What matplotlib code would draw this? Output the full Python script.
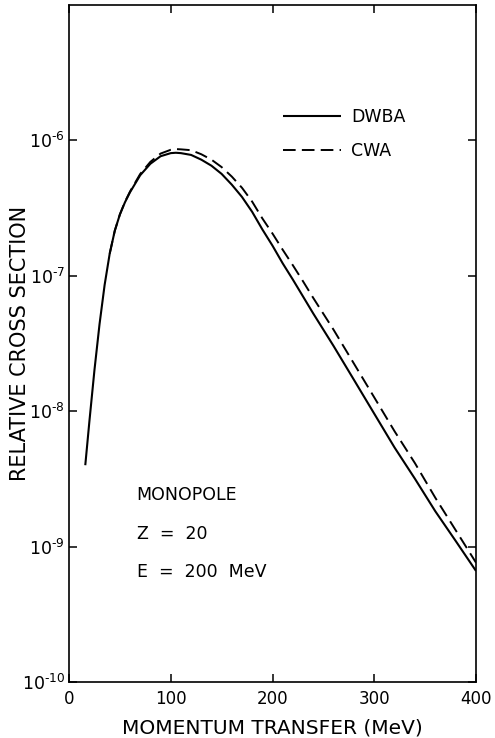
import matplotlib
matplotlib.use("Agg")
import matplotlib.pyplot as plt
from matplotlib.ticker import FixedLocator, NullLocator, FixedFormatter

# ---- data ----
q_dwba = [16, 20, 25, 30, 35, 40, 45, 50, 55, 60, 70, 80, 90, 100, 105, 110,
          120, 130, 140, 150, 160, 170, 180, 190, 200, 210, 220, 230, 240, 260,
          280, 300, 320, 340, 360, 380, 400]
sigma_dwba = [3.98e-9, 8.32e-9, 2.00e-8, 4.37e-8, 8.51e-8, 1.45e-7, 2.14e-7,
              2.82e-7, 3.47e-7, 4.12e-7, 5.50e-7, 6.68e-7, 7.59e-7, 8.00e-7,
              8.05e-7, 8.00e-7, 7.76e-7, 7.16e-7, 6.46e-7, 5.62e-7, 4.68e-7,
              3.80e-7, 2.95e-7, 2.19e-7, 1.66e-7, 1.23e-7, 9.33e-8, 7.00e-8,
              5.25e-8, 3.02e-8, 1.70e-8, 9.55e-9, 5.37e-9, 3.16e-9, 1.82e-9,
              1.10e-9, 6.6e-10]

q_cwa = [40, 45, 50, 55, 60, 70, 80, 90, 100, 105, 110, 120, 130, 140, 150,
         160, 170, 180, 190, 200, 210, 220, 230, 240, 260, 280, 300, 320, 340,
         360, 380, 400]
sigma_cwa = [1.45e-7, 2.14e-7, 2.82e-7, 3.50e-7, 4.17e-7, 5.62e-7, 6.90e-7,
             7.94e-7, 8.47e-7, 8.57e-7, 8.53e-7, 8.41e-7, 7.85e-7, 7.16e-7,
             6.31e-7, 5.37e-7, 4.44e-7, 3.51e-7, 2.64e-7, 2.04e-7, 1.55e-7,
             1.19e-7, 9.06e-8, 6.84e-8, 3.98e-8, 2.24e-8, 1.26e-8, 7.08e-9,
             4.12e-9, 2.29e-9, 1.32e-9, 7.6e-10]

x_ticks = [0, 100, 200, 300, 400]
x_ticklabels = ["0", "100", "200", "300", "400"]
y_ticks = [1e-10, 1e-9, 1e-8, 1e-7, 1e-6]
y_ticklabels = [r"$\mathregular{10^{\text{-}10}}$", r"$\mathregular{10^{\text{-}9}}$",
                r"$\mathregular{10^{\text{-}8}}$", r"$\mathregular{10^{\text{-}7}}$",
                r"$\mathregular{10^{\text{-}6}}$"]
series_labels = ["DWBA", "CWA"]
annotations = ["MONOPOLE", "Z  =  20", "E  =  200  MeV"]

plt.rcParams["font.family"] = ["DejaVu Sans"]

fig = plt.figure(figsize=(4.95, 7.38), dpi=100)
ax = fig.add_axes([69 / 495, 1 - 682 / 738, 407 / 495, 677.5 / 738])

ax.plot(q_dwba, sigma_dwba, color="black", lw=1.5, solid_capstyle="butt",
        label=series_labels[0])
ax.plot(q_cwa, sigma_cwa, color="black", lw=1.4, dashes=(6.5, 3.2),
        label=series_labels[1])

ax.set_yscale("log")
ax.set_xlim(0, 400)
ax.set_ylim(1e-10, 1e-5)

ax.xaxis.set_major_locator(FixedLocator(x_ticks))
ax.xaxis.set_major_formatter(FixedFormatter(x_ticklabels))
ax.yaxis.set_major_locator(FixedLocator(y_ticks))
ax.yaxis.set_major_formatter(FixedFormatter(y_ticklabels))
ax.yaxis.set_minor_locator(NullLocator())
ax.xaxis.set_minor_locator(NullLocator())

ax.tick_params(axis="both", which="major", direction="in", length=6,
               width=1.1, top=True, right=True, color="black")
ax.tick_params(axis="x", labelsize=12, pad=6)
ax.tick_params(axis="y", labelsize=12.5, pad=3)

for s in ax.spines.values():
    s.set_linewidth(1.2)
    s.set_color("black")

ax.set_xlabel("MOMENTUM TRANSFER (MeV)", fontsize=14.5, va="baseline")
ax.xaxis.set_label_coords(0.5, (682 - 733) / 677.5)
ax.set_ylabel("RELATIVE CROSS SECTION", fontsize=15, va="center")
ax.yaxis.set_label_coords((20 - 69) / 407, 0.5)

leg = ax.legend(loc="center left", bbox_to_anchor=(0.526, 0.809),
                frameon=False, fontsize=12.5, handlelength=3.35,
                handletextpad=0.55, labelspacing=0.9, borderpad=0,
                borderaxespad=0)

ann_y = [0.276, 0.219, 0.162]
for txt, yy in zip(annotations, ann_y):
    ax.text(0.166, yy, txt, transform=ax.transAxes, fontsize=12.5,
            ha="left", va="center")

fig.savefig("out.png", dpi=100)
